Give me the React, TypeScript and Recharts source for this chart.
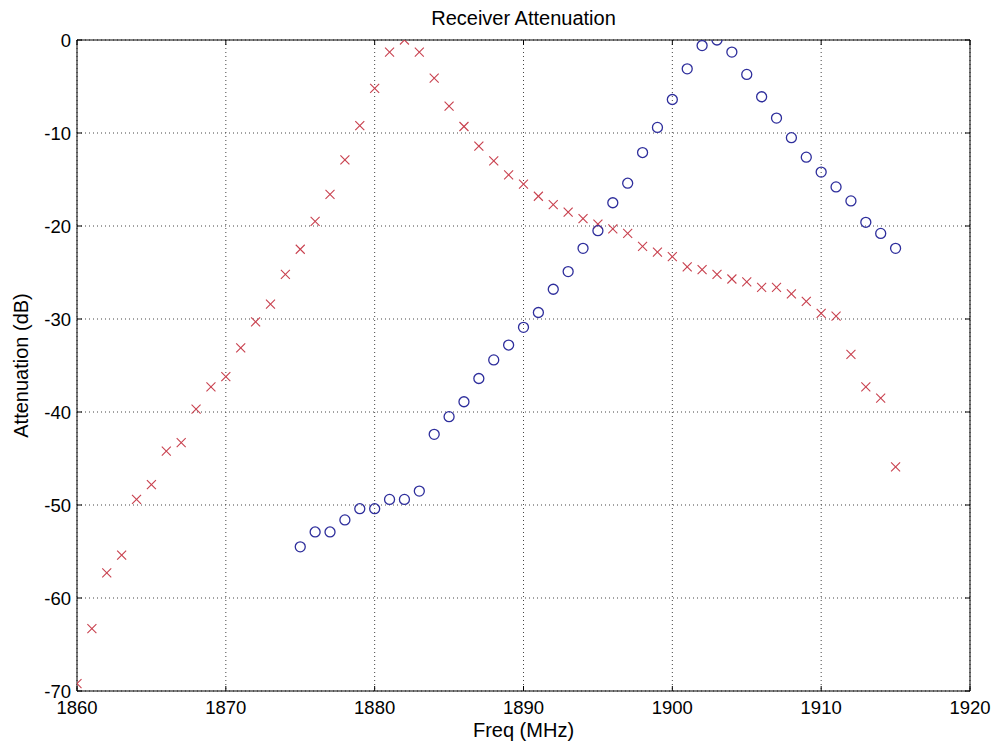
import React from 'react';
import { ScatterChart, Scatter, XAxis, YAxis, CartesianGrid, Label } from 'recharts';

const redFreq = [
  1860, 1861, 1862, 1863, 1864, 1865, 1866, 1867, 1868, 1869,
  1870, 1871, 1872, 1873, 1874, 1875, 1876, 1877, 1878, 1879,
  1880, 1881, 1882, 1883, 1884, 1885, 1886, 1887, 1888, 1889,
  1890, 1891, 1892, 1893, 1894, 1895, 1896, 1897, 1898, 1899,
  1900, 1901, 1902, 1903, 1904, 1905, 1906, 1907, 1908, 1909,
  1910, 1911, 1912, 1913, 1914, 1915,
];
const redAtten = [
  -69.2, -63.3, -57.3, -55.4, -49.4, -47.8, -44.2, -43.3, -39.7, -37.3,
  -36.2, -33.1, -30.3, -28.4, -25.2, -22.5, -19.5, -16.6, -12.9, -9.2,
  -5.2, -1.3, 0, -1.3, -4.1, -7.1, -9.3, -11.4, -13.0, -14.5,
  -15.5, -16.8, -17.7, -18.5, -19.2, -19.8, -20.3, -20.8, -22.2, -22.8,
  -23.3, -24.4, -24.7, -25.2, -25.7, -26.0, -26.6, -26.6, -27.3, -28.1,
  -29.4, -29.7, -33.8, -37.3, -38.5, -45.9,
];
const blueFreq = [
  1875, 1876, 1877, 1878, 1879, 1880, 1881, 1882, 1883, 1884,
  1885, 1886, 1887, 1888, 1889, 1890, 1891, 1892, 1893, 1894,
  1895, 1896, 1897, 1898, 1899, 1900, 1901, 1902, 1903, 1904,
  1905, 1906, 1907, 1908, 1909, 1910, 1911, 1912, 1913, 1914,
  1915,
];
const blueAtten = [
  -54.5, -52.9, -52.9, -51.6, -50.4, -50.4, -49.4, -49.4, -48.5, -42.4,
  -40.5, -38.9, -36.4, -34.4, -32.8, -30.9, -29.3, -26.8, -24.9, -22.4,
  -20.5, -17.5, -15.4, -12.1, -9.4, -6.4, -3.1, -0.6, 0, -1.3,
  -3.7, -6.1, -8.4, -10.5, -12.6, -14.2, -15.8, -17.3, -19.6, -20.8,
  -22.4,
];
const xTicks = [1860, 1870, 1880, 1890, 1900, 1910, 1920];
const yTicks = [-70, -60, -50, -40, -30, -20, -10, 0];

const redData = redFreq.map((f, i) => ({ f, a: redAtten[i] }));
const blueData = blueFreq.map((f, i) => ({ f, a: blueAtten[i] }));

const RED = '#c8404e';
const BLUE = '#2e2e9c';
const FONT = '"Liberation Sans", Arial, Helvetica, sans-serif';

const Cross = (p: any) => {
  const { cx, cy } = p;
  const s = 4.5;
  return (
    <g>
      <line x1={cx - s} y1={cy - s} x2={cx + s} y2={cy + s} stroke={RED} strokeWidth={1.1} />
      <line x1={cx - s} y1={cy + s} x2={cx + s} y2={cy - s} stroke={RED} strokeWidth={1.1} />
    </g>
  );
};

const Ring = (p: any) => {
  const { cx, cy } = p;
  return <circle cx={cx} cy={cy} r={5} fill="none" stroke={BLUE} strokeWidth={1.3} />;
};

const Nothing = () => <g />;

const YLabel = (props: any) => {
  const vb = props.viewBox || { x: 0, y: 40, width: 77, height: 651 };
  const x = 28;
  const y = vb.y + vb.height / 2;
  return (
    <text
      x={x}
      y={y}
      transform={`rotate(-90 ${x} ${y})`}
      textAnchor="middle"
      fontSize={20}
      fontFamily={FONT}
      fill="#000"
    >
      Attenuation (dB)
    </text>
  );
};

export default function App() {
  const tickStyle = { fill: '#000', fontSize: 18.5, fontFamily: FONT };
  return (
    <div style={{ position: 'absolute', left: 0, top: 0, width: 994, height: 746, background: '#fff' }}>
      <ScatterChart width={994} height={746} margin={{ top: 39, right: 23, bottom: 0, left: 0 }}>
        <CartesianGrid stroke="#444" strokeDasharray="1 3" />
        <XAxis
          dataKey="f"
          type="number"
          domain={[1860, 1920]}
          ticks={xTicks}
          height={55}
          tickSize={-5}
          tickMargin={15}
          stroke="#000"
          tick={tickStyle}
          allowDataOverflow
        >
          <Label value="Freq (MHz)" position="insideBottom" offset={9} fill="#000" fontSize={20} fontFamily={FONT} />
        </XAxis>
        <XAxis
          xAxisId="top"
          dataKey="f"
          orientation="top"
          type="number"
          domain={[1860, 1920]}
          ticks={xTicks}
          height={1}
          tickSize={-5}
          tickFormatter={() => ''}
          stroke="#000"
          allowDataOverflow
        >
          <Label value="Receiver Attenuation" position="top" offset={14} fill="#000" fontSize={20} fontFamily={FONT} />
        </XAxis>
        <YAxis
          dataKey="a"
          type="number"
          domain={[-70, 0]}
          ticks={yTicks}
          width={77}
          tickSize={-5}
          tickMargin={11}
          stroke="#000"
          tick={tickStyle}
          allowDataOverflow
        >
          <Label content={<YLabel />} />
        </YAxis>
        <YAxis
          yAxisId="right"
          dataKey="a"
          orientation="right"
          type="number"
          domain={[-70, 0]}
          ticks={yTicks}
          width={1}
          tickSize={-5}
          tickFormatter={() => ''}
          stroke="#000"
          allowDataOverflow
        />
        <Scatter data={redData} dataKey="a" shape={<Cross />} isAnimationActive={false} />
        <Scatter data={blueData} dataKey="a" shape={<Ring />} isAnimationActive={false} />
        <Scatter xAxisId="top" yAxisId="right" data={blueData} dataKey="a" shape={<Nothing />} isAnimationActive={false} legendType="none" />
      </ScatterChart>
    </div>
  );
}
